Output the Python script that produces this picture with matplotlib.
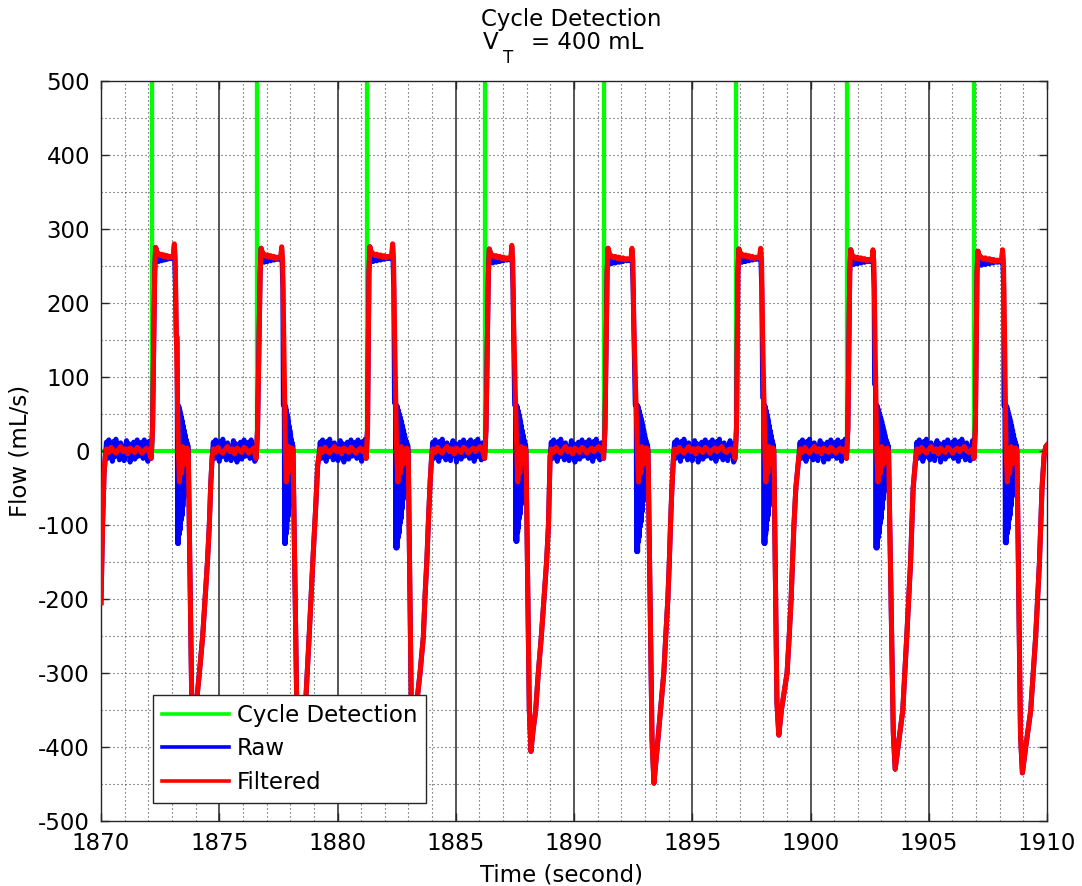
import numpy as np
import matplotlib.pyplot as plt

plt.rcParams['font.family'] = ['DejaVu Sans']
plt.rcParams['axes.unicode_minus'] = False

FS = 16.5

# ---- values (time in s, flow in mL/s) ----
# cycle detection fires at the start of every breath
onset_t = [1872.14, 1876.58, 1881.23, 1886.24, 1891.27, 1896.83, 1901.54, 1906.93]

# inspiratory plateau of the filtered flow
peak_t = [1872.31, 1876.77, 1881.37, 1886.42, 1891.44, 1896.97, 1901.70, 1907.08]
peak_v = [275, 274, 276, 273, 274, 273, 272, 270]
plateau_v = [263, 262, 263, 261, 260, 262, 259, 258]
spike_t = [1873.10, 1877.64, 1882.33, 1887.37, 1892.45, 1897.89, 1902.64, 1908.12]
spike_v = [280, 276, 280, 278, 274, 274, 272, 272]

# flow back to ~0, then valve ringing until the expiration starts
zero_t = [1873.27, 1877.80, 1882.50, 1887.58, 1892.68, 1898.07, 1902.80, 1908.27]
drop_t = [1873.69, 1878.12, 1882.99, 1887.97, 1893.13, 1898.45, 1903.30, 1908.73]
raw_hi = [154, 62, 65, 62, 62, 72, 90, 61]
raw_lo = [-125, -125, -131, -122, -136, -125, -131, -124]

# expiration: descent, trough and recovery to baseline, per cycle
recovery = [
    [(1873.84, -345), (1873.91, -400), (1874.02, -345), (1874.16, -300), (1874.30, -250),
     (1874.40, -200), (1874.50, -150), (1874.58, -100), (1874.64, -45), (1874.70, -8)],
    [(1878.28, -350), (1878.37, -395), (1878.50, -370), (1878.67, -330), (1878.80, -251),
     (1878.96, -147), (1879.08, -75), (1879.16, -20), (1879.22, -5)],
    [(1883.12, -345), (1883.19, -385), (1883.30, -355), (1883.49, -300), (1883.63, -251),
     (1883.70, -197), (1883.78, -147), (1883.84, -98), (1883.92, -40), (1883.98, -8)],
    [(1888.11, -350), (1888.18, -406), (1888.26, -380), (1888.38, -350), (1888.49, -300),
     (1888.62, -250), (1888.73, -200), (1888.84, -150), (1888.92, -100), (1888.96, -50),
     (1888.99, -7)],
    [(1893.30, -390), (1893.38, -449), (1893.52, -400), (1893.66, -349), (1893.80, -299),
     (1893.88, -250), (1893.97, -199), (1894.03, -150), (1894.08, -100), (1894.14, -50),
     (1894.20, -12)],
    [(1898.58, -340), (1898.66, -384), (1898.77, -350), (1899.01, -300), (1899.10, -250),
     (1899.18, -200), (1899.24, -150), (1899.30, -100), (1899.38, -50), (1899.51, -7)],
    [(1903.50, -380), (1903.58, -430), (1903.70, -400), (1903.90, -351), (1904.07, -251),
     (1904.23, -151), (1904.34, -50), (1904.45, -9)],
    [(1908.88, -385), (1908.96, -435), (1909.10, -400), (1909.31, -351), (1909.52, -251),
     (1909.68, -151), (1909.79, -50), (1909.88, -5)],
]
lead_in = [(1870.00, -205), (1870.07, -95), (1870.13, -30), (1870.18, -8)]
tail = [(1909.95, 6), (1910.00, 8)]

# small texture
plateau_ripple = [4, 1, 3, 0, 2, -1, 1, -2, 0, -1]
filt_ripple = [3, -2, 5, 0, -3, 2, 6, -1, 3, -4, 4, 1, -2, 5, 2, -3, 1, 4, -1, 3, 6, 0, -2, 2]
raw_ripple = [12, -10, 15, -5, 9, -14, 13, -8, 16, -3, 8, -12, 11, -9, 6, -13, 3, 14, -6,
              10, -15, 7, -2, 12, -11, 5, 15, -7, 9, -4]
filt_burst = [-42, -8, -30, 6, -18, -2, -12, 4]
raw_burst_hi = [62, 60, 55, 50, 45, 40, 34, 28, 22, 16, 12, 8]
raw_burst_decay = [1.0, 1.0, 0.9, 0.85, 0.75, 0.7, 0.6, 0.5, 0.42, 0.35, 0.28, 0.2]


def spread(t0, t1, vals):
    ts = np.linspace(t0, t1, len(vals) + 2)[1:-1]
    return list(zip(ts, vals))


def baseline(t0, t1, step, ripple):
    ts = np.arange(t0, t1, step)
    return list(zip(ts, np.resize(ripple, len(ts))))


def build_traces():
    filt = list(lead_in)
    raw = list(lead_in)
    prev = lead_in[-1][0] + 0.05
    for i in range(len(onset_t)):
        t0 = onset_t[i]
        pv = plateau_v[i]
        filt += baseline(prev, t0 - 0.03, 0.1, filt_ripple)
        raw += baseline(prev, t0 - 0.03, 0.05, raw_ripple)

        rise = [(t0 - 0.02, -10), (t0 + 0.04, 30), (peak_t[i] - 0.04, 240),
                (peak_t[i], peak_v[i]), (peak_t[i] + 0.06, pv + 5)]
        filt += rise
        raw += rise
        filt += spread(peak_t[i] + 0.06, spike_t[i] - 0.05, [pv + r for r in plateau_ripple])
        raw += spread(peak_t[i] + 0.06, spike_t[i] - 0.05, [pv - 3 - r for r in plateau_ripple])

        filt += [(spike_t[i] - 0.04, pv - 1), (spike_t[i], spike_v[i]), (spike_t[i] + 0.04, pv - 4),
                 (spike_t[i] + 0.08, 170), (zero_t[i], 0)]
        filt += spread(zero_t[i], drop_t[i], filt_burst)

        # raw flow rings hard when the valve closes
        raw += [(spike_t[i] - 0.04, pv - 3), (spike_t[i], spike_v[i] - 3), (spike_t[i] + 0.05, 220),
                (zero_t[i] - 0.09, raw_hi[i]), (zero_t[i] - 0.05, raw_hi[i])]
        zig = []
        for hi, d in zip(raw_burst_hi, raw_burst_decay):
            zig += [raw_lo[i] * d, hi]
        raw += spread(zero_t[i] - 0.05, drop_t[i], zig)

        filt += [(drop_t[i], 0)] + recovery[i]
        raw += [(drop_t[i], 0)] + recovery[i]
        prev = recovery[i][-1][0] + 0.05
    filt += tail
    raw += tail
    return np.array(filt), np.array(raw)


filt, raw = build_traces()

cd_t = [1870.0]
cd_v = [0]
for t in onset_t:
    cd_t += [t, t, t]
    cd_v += [0, 1000, 0]
cd_t.append(1910.0)
cd_v.append(0)

fig = plt.figure(figsize=(10.82, 8.86), dpi=100)
ax = fig.add_axes([101 / 1082, 1 - 821 / 886, 946 / 1082, 740 / 886])

# dotted minor grid + solid lines at the major time ticks
for t in range(1871, 1910):
    if t % 5:
        ax.axvline(t, color='#444444', lw=0.8, ls=(0, (1, 2.6)), zorder=0)
for v in range(-450, 500, 50):
    ax.axhline(v, color='#444444', lw=0.8, ls=(0, (1, 2.6)), zorder=0)
for t in range(1875, 1910, 5):
    ax.axvline(t, color='#3a3a3a', lw=1.2, zorder=0.5)

ax.plot(cd_t, cd_v, color='#00ff00', lw=3.0, label='Cycle Detection', zorder=1)
ax.plot(raw[:, 0], raw[:, 1], color='#0000ff', lw=3.6, label='Raw', zorder=2)
ax.plot(filt[:, 0], filt[:, 1], color='#ff0000', lw=3.6, label='Filtered', zorder=3)

ax.set_xlim(1870, 1910)
ax.set_ylim(-500, 500)
ax.set_xticks(range(1870, 1911, 5))
ax.set_yticks(range(-500, 501, 100))
ax.tick_params(direction='in', top=True, right=True, length=6, width=1,
               labelsize=FS, pad=8, colors='#262626', labelcolor='black')
for s in ax.spines.values():
    s.set_color('#262626')
    s.set_linewidth(1.0)

ax.set_xlabel('Time (second)', fontsize=FS)
ax.set_ylabel('Flow (mL/s)', fontsize=FS)
ax.xaxis.set_label_coords((561 - 101) / 946, -0.058)
ax.yaxis.set_label_coords(-0.073, 0.5)

# two-line title, subscript T set lower and larger than mathtext would
fig.text(571 / 1082, 1 - 26 / 886, 'Cycle Detection', ha='center', va='baseline', fontsize=FS)
fig.text(483 / 1082, 1 - 49 / 886, 'V', ha='left', va='baseline', fontsize=FS)
fig.text(503 / 1082, 1 - 63 / 886, 'T', ha='left', va='baseline', fontsize=12)
fig.text(643 / 1082, 1 - 49 / 886, '= 400 mL', ha='right', va='baseline', fontsize=FS)

leg = ax.legend(loc='upper left', bbox_to_anchor=((153 - 101) / 946, (821 - 695) / 740),
                fontsize=FS, fancybox=False, framealpha=1, edgecolor='#262626',
                handlelength=2.9, handletextpad=0.35, labelspacing=0.45, borderpad=0.4,
                borderaxespad=0)
leg.get_frame().set_linewidth(1.0)
for line in leg.get_lines():
    line.set_linewidth(2.6)

fig.savefig('out.png', dpi=100)
